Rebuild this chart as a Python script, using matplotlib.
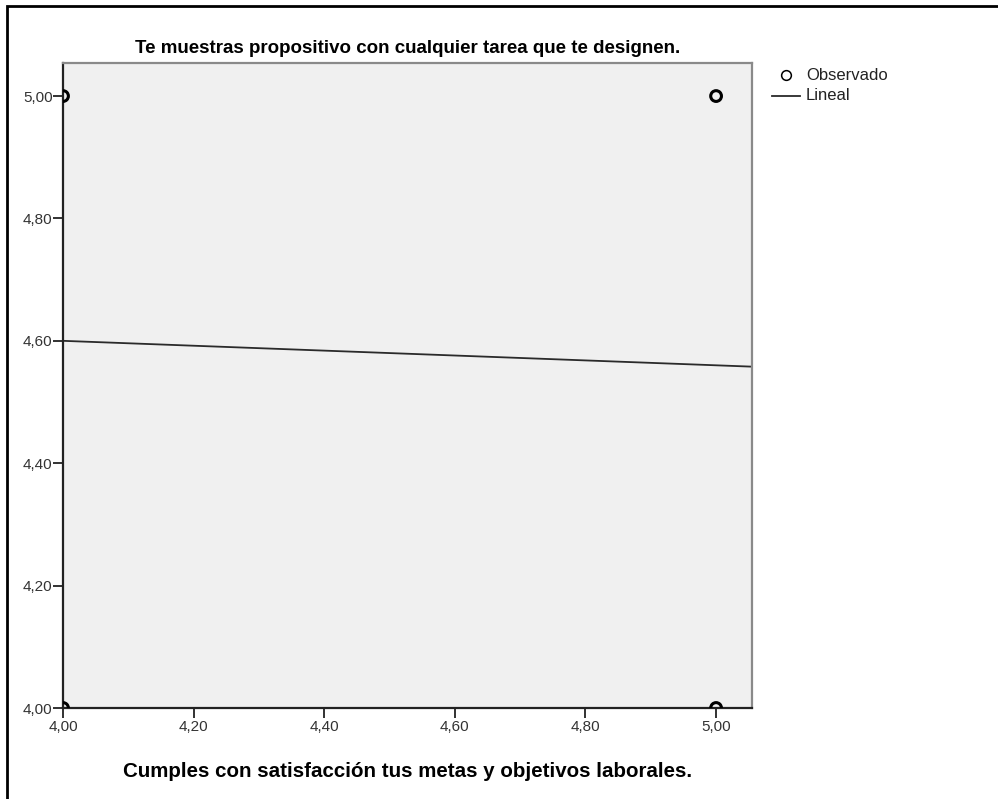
import matplotlib
matplotlib.use("Agg")
import matplotlib.pyplot as plt
from matplotlib.lines import Line2D
from matplotlib.patches import Rectangle
import numpy as np

plt.rcParams['font.family'] = ['Liberation Sans', 'DejaVu Sans']

# Observed responses
obs_x = [4.0, 4.0, 5.0, 5.0]
obs_y = [4.0, 5.0, 4.0, 5.0]

# Linear fit coefficients
fit_intercept = 4.76
fit_slope = -0.04

ticks = [4.0, 4.2, 4.4, 4.6, 4.8, 5.0]
tick_labels = ["4,00", "4,20", "4,40", "4,60", "4,80", "5,00"]

title = "Te muestras propositivo con cualquier tarea que te designen."
xlabel = "Cumples con satisfacción tus metas y objetivos laborales."
legend_labels = ["Observado", "Lineal"]

W, H = 998, 799
fig = plt.figure(figsize=(W / 100, H / 100), dpi=100)
ax = fig.add_axes([63 / W, 1 - 708 / H, 689 / W, 645 / H])
ax.set_facecolor("#F0F0F0")

xmin, xmax = 4.0, 5.055
ymin, ymax = 4.0, 5.054
ax.set_xlim(xmin, xmax)
ax.set_ylim(ymin, ymax)

xs = np.array([xmin, xmax])
ax.plot(xs, fit_intercept + fit_slope * xs, color="#2a2a2a", lw=1.3, zorder=2)
ax.scatter(obs_x, obs_y, s=60, facecolors="none", edgecolors="black",
           linewidths=2.2, zorder=3, clip_on=True)

ax.set_xticks(ticks)
ax.set_xticklabels(tick_labels)
ax.set_yticks(ticks)
ax.set_yticklabels(tick_labels)
ax.tick_params(direction="out", length=7, width=1.3, color="#222222",
               labelsize=11, labelcolor="#333333")
ax.tick_params(axis="y", pad=0.5)
ax.tick_params(axis="x", pad=1.5)

for side in ("left", "bottom"):
    ax.spines[side].set_color("#222222")
    ax.spines[side].set_linewidth(1.6)
for side in ("top", "right"):
    ax.spines[side].set_color("#8a8a8a")
    ax.spines[side].set_linewidth(1.6)

ax.set_title(title, fontsize=13.5, fontweight="bold", pad=7)
ax.set_xlabel(xlabel, fontsize=14.8, fontweight="bold", labelpad=20)

# Legend, placed in figure pixel coordinates
def fx(px):
    return px / W

def fy(py):
    return 1 - py / H

fig.add_artist(Line2D([fx(786)], [fy(75)], marker="o", ls="none", mfc="none",
                      mec="black", mew=1.1, ms=7, transform=fig.transFigure))
fig.add_artist(Line2D([fx(772), fx(800)], [fy(96), fy(96)], color="#2a2a2a",
                      lw=1.3, transform=fig.transFigure))
for label, py in zip(legend_labels, (75, 96)):
    fig.text(fx(806), fy(py), label, fontsize=12, va="center", ha="left",
             color="#222222")

# Outer frame
fig.patches.append(Rectangle((7 / W, -0.1), 1.2, 1.1 - 6 / H,
                             transform=fig.transFigure, fill=False,
                             edgecolor="black", lw=2.0))

fig.savefig("out.png", dpi=100)
